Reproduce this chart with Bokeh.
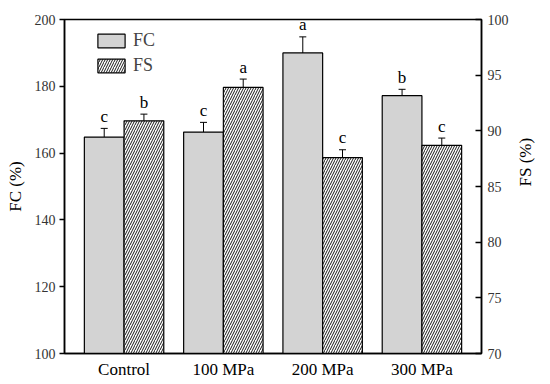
import math
from bokeh.plotting import figure
from bokeh.models import (FactorRange, Range1d, LinearAxis, FixedTicker, Whisker,
                          ColumnDataSource, Legend, LegendItem)
from bokeh.transform import dodge
from bokeh.core.properties import value
from bokeh.embed import file_html
from bokeh.resources import INLINE

categories = ["Control", "100 MPa", "200 MPa", "300 MPa"]
fc = [164.8, 166.3, 190.0, 177.2]
fc_err = [2.6, 2.9, 4.8, 1.9]
fs = [90.9, 93.9, 87.6, 88.7]
fs_err = [0.6, 0.75, 0.7, 0.65]
fc_letters = ["c", "c", "a", "b"]
fs_letters = ["b", "a", "c", "c"]
fc_ticks = [100, 120, 140, 160, 180, 200]
fs_ticks = [70, 75, 80, 85, 90, 95, 100]

FONT = "Liberation Serif"

src = ColumnDataSource(dict(
    cat=categories, fc=fc, fs=fs,
    fc_up=[v + e for v, e in zip(fc, fc_err)], fc_lo=[v - e for v, e in zip(fc, fc_err)],
    fs_up=[v + e for v, e in zip(fs, fs_err)], fs_lo=[v - e for v, e in zip(fs, fs_err)],
    fc_lab=fc_letters, fs_lab=fs_letters,
))

xr = FactorRange(factors=categories, range_padding=0.1, range_padding_units="absolute")
p = figure(x_range=xr, y_range=Range1d(100, 200), width=550, height=384,
           output_backend="svg", toolbar_location=None,
           min_border_left=64, min_border_right=69, min_border_top=19, min_border_bottom=31)
p.extra_y_ranges = {"fs": Range1d(70, 100)}

p.xgrid.visible = False
p.ygrid.visible = False
p.outline_line_color = "black"
p.outline_line_width = 1.5
p.outline_line_alpha = 1

r_fc = p.vbar(x=dodge("cat", -0.2, range=p.x_range), top="fc", bottom=100, width=0.4,
              source=src, fill_color="#d3d3d3", line_color="black", line_width=1.2)
r_fs = p.vbar(x=dodge("cat", 0.2, range=p.x_range), top="fs", bottom=70, width=0.4,
              source=src, y_range_name="fs", fill_color="white", line_color="black",
              line_width=1.2, hatch_pattern="right_diagonal_line", hatch_scale=5,
              hatch_weight=0.9, hatch_color="black")

w1 = Whisker(base=dodge("cat", -0.2, range=p.x_range), upper="fc_up", lower="fc_lo",
             source=src, line_color="black", line_width=1)
w2 = Whisker(base=dodge("cat", 0.2, range=p.x_range), upper="fs_up", lower="fs_lo",
             source=src, line_color="black", line_width=1, y_range_name="fs")
for w in (w1, w2):
    w.upper_head.size = 7
    w.lower_head.size = 7
    w.upper_head.line_width = 1
    w.lower_head.line_width = 1
    p.add_layout(w)

p.text(x=dodge("cat", -0.2, range=p.x_range), y="fc_up", text="fc_lab", source=src,
       text_font=value(FONT), text_font_size="17px", text_align="center",
       text_baseline="alphabetic", y_offset=-12, text_color="black")
p.text(x=dodge("cat", 0.2, range=p.x_range), y="fs_up", text="fs_lab", source=src,
       y_range_name="fs", text_font=value(FONT), text_font_size="17px",
       text_align="center", text_baseline="alphabetic", y_offset=-12, text_color="black")

# left axis
ly = p.yaxis[0]
ly.ticker = FixedTicker(ticks=fc_ticks)
ly.axis_label = "FC (%)"
ly.minor_tick_line_color = None
ly.major_tick_out = 5
ly.major_tick_in = 0
ly.major_label_standoff = 4
ly.axis_label_standoff = 7

# right axis
ry = LinearAxis(y_range_name="fs", ticker=FixedTicker(ticks=fs_ticks), axis_label="FS (%)")
ry.minor_tick_line_color = None
ry.major_tick_out = 0
ry.major_tick_in = 6
ry.major_label_standoff = 6
ry.axis_label_standoff = 14
try:
    ry.axis_label_orientation = math.pi / 2
except Exception:
    pass
p.add_layout(ry, "right")

xa = p.xaxis[0]
xa.major_tick_out = 0
xa.major_tick_in = 0
xa.major_label_standoff = 6

for ax in [ly, ry, xa]:
    ax.axis_line_color = "black"
    ax.axis_line_width = 1.5
    ax.major_tick_line_color = "black"
    ax.major_tick_line_width = 1.5
    ax.major_label_text_font = FONT
    ax.major_label_text_color = "#333333"
    ax.major_label_text_font_size = "14px"
    ax.axis_label_text_font = FONT
    ax.axis_label_text_font_size = "17px"
    ax.axis_label_text_font_style = "normal"
    ax.axis_label_text_color = "black"
xa.major_label_text_font_size = "17px"
xa.major_label_text_color = "black"

legend = Legend(items=[LegendItem(label="FC", renderers=[r_fc]),
                       LegendItem(label="FS", renderers=[r_fs])],
                location=(30, 277), padding=0, margin=0, spacing=4,
                glyph_width=34, glyph_height=17, label_height=17, label_standoff=5,
                label_text_font=FONT, label_text_font_size="18px",
                border_line_color=None, background_fill_alpha=0)
p.add_layout(legend)

open("out.html", "w").write(file_html(p, INLINE))
